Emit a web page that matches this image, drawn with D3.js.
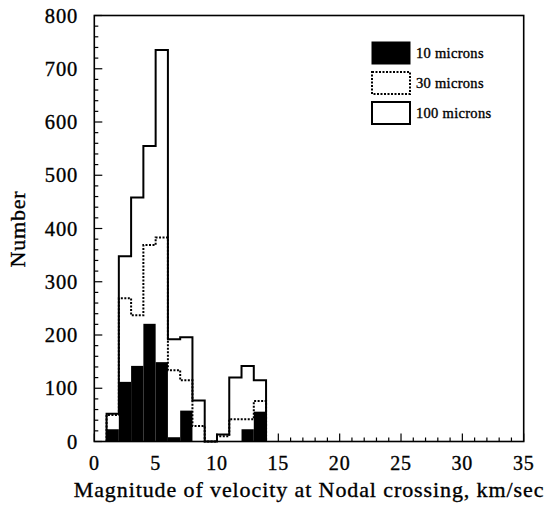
<!DOCTYPE html>
<html>
<head>
<meta charset="utf-8">
<script src="https://cdn.jsdelivr.net/npm/d3@7"></script>
<style>
  body { margin: 0; background: #fff; }
  text { font-family: "Liberation Serif", "Times New Roman", serif; fill: #000; stroke: #000; stroke-width: 0.35; }
</style>
</head>
<body>
<script>
var w = 546;
var h = 514;

// histogram bins, 1 km/sec wide, left edges
var binStart = [1, 2, 3, 4, 5, 6, 7, 8, 9, 10, 11, 12, 13];
var counts100 = [52, 348, 458, 555, 735, 192, 196, 77, 0, 13, 120, 142, 115];
var counts30 = [50, 269, 237, 369, 383, 134, 115, 29, 0, 10, 42, 42, 76];
var counts10 = [23, 112, 142, 221, 149, 8, 58, 0, 0, 0, 0, 23, 56];

var xTicks = [0, 5, 10, 15, 20, 25, 30, 35];
var yTicks = [0, 100, 200, 300, 400, 500, 600, 700, 800];
var legendLabels = ["10 microns", "30 microns", "100 microns"];

var svg = d3.select("body")
  .append("svg")
  .attr("width", w)
  .attr("height", h);

var x = d3.scaleLinear().domain([0, 35]).range([94.3, 523.7]);
var y = d3.scaleLinear().domain([0, 800]).range([441.5, 15.5]);

// minor + major ticks, drawn inside the frame
var xMinor = d3.range(0, 36, 1);
svg.selectAll(".xtick")
  .data(xMinor)
  .enter()
  .append("line")
  .attr("x1", function (d) { return x(d); })
  .attr("x2", function (d) { return x(d); })
  .attr("y1", y(0))
  .attr("y2", function (d) { return y(0) - (d % 5 == 0 ? 8 : 4); })
  .attr("stroke", "#000")
  .attr("stroke-width", 1.2);

var yMinor = d3.range(0, 801, 20);
svg.selectAll(".ytick")
  .data(yMinor)
  .enter()
  .append("line")
  .attr("x1", x(0))
  .attr("x2", function (d) { return x(0) + (d % 100 == 0 ? 8 : 4); })
  .attr("y1", function (d) { return y(d); })
  .attr("y2", function (d) { return y(d); })
  .attr("stroke", "#000")
  .attr("stroke-width", 1.2);

// builds the step outline of a histogram
var stepPoints = function (vals) {
  var pts = [[binStart[0], 0]];
  vals.forEach(function (v, i) {
    pts.push([binStart[i], v]);
    pts.push([binStart[i] + 1, v]);
  });
  pts.push([binStart[vals.length - 1] + 1, 0]);
  return pts;
};

var line = d3.line()
  .x(function (d) { return x(d[0]); })
  .y(function (d) { return y(d[1]); });

// 100 microns: white area with solid outline
svg.append("path")
  .attr("d", line(stepPoints(counts100)) + "Z")
  .attr("fill", "#fff")
  .attr("stroke", "none");

// 10 microns: filled black bars
svg.selectAll(".bar10")
  .data(counts10)
  .enter()
  .append("rect")
  .attr("x", function (d, i) { return x(binStart[i]); })
  .attr("width", function (d, i) { return x(binStart[i] + 1) - x(binStart[i]); })
  .attr("y", function (d) { return y(d); })
  .attr("height", function (d) { return y(0) - y(d); })
  .attr("fill", "#000");

svg.append("path")
  .attr("d", line(stepPoints(counts100)))
  .attr("fill", "none")
  .attr("stroke", "#000")
  .attr("stroke-width", 2);

// 30 microns: dotted outline
svg.append("path")
  .attr("d", line(stepPoints(counts30)))
  .attr("fill", "none")
  .attr("stroke", "#000")
  .attr("stroke-width", 2)
  .attr("stroke-dasharray", "2,1.5");

// frame
svg.append("rect")
  .attr("x", x(0))
  .attr("y", y(800))
  .attr("width", x(35) - x(0))
  .attr("height", y(0) - y(800))
  .attr("fill", "none")
  .attr("stroke", "#000")
  .attr("stroke-width", 1.6);

// tick labels
svg.selectAll(".xlab")
  .data(xTicks)
  .enter()
  .append("text")
  .attr("x", function (d) { return x(d); })
  .attr("y", 470)
  .attr("text-anchor", "middle")
  .attr("font-size", 20)
  .attr("letter-spacing", 0.8)
  .text(function (d) { return d; });

svg.selectAll(".ylab")
  .data(yTicks)
  .enter()
  .append("text")
  .attr("x", 78)
  .attr("y", function (d) { return y(d) + 7; })
  .attr("text-anchor", "end")
  .attr("font-size", 20.5)
  .attr("letter-spacing", 0.8)
  .text(function (d) { return d; });

// axis titles
svg.append("text")
  .attr("x", 309)
  .attr("y", 497)
  .attr("text-anchor", "middle")
  .attr("font-size", 22)
  .attr("letter-spacing", 0.9)
  .text("Magnitude of velocity at Nodal crossing, km/sec");

svg.append("text")
  .attr("transform", "translate(25,229) rotate(-90)")
  .attr("text-anchor", "middle")
  .attr("font-size", 22)
  .attr("letter-spacing", 0.8)
  .text("Number");

// legend
var legend = svg.selectAll(".legend")
  .data(legendLabels)
  .enter()
  .append("g")
  .attr("transform", function (d, i) { return "translate(372," + (42 + i * 30) + ")"; });

legend.append("rect")
  .attr("width", 38)
  .attr("height", 22)
  .attr("fill", function (d, i) { return i == 0 ? "#000" : "#fff"; })
  .attr("stroke", "#000")
  .attr("stroke-width", function (d, i) { return i == 0 ? 1 : 2; })
  .attr("stroke-dasharray", function (d, i) { return i == 1 ? "2,1.5" : null; });

legend.append("text")
  .attr("x", 44)
  .attr("y", 16)
  .attr("font-size", 14.5)
  .attr("letter-spacing", 0.3)
  .attr("stroke-width", 0.2)
  .text(function (d) { return d; });
</script>
</body>
</html>
